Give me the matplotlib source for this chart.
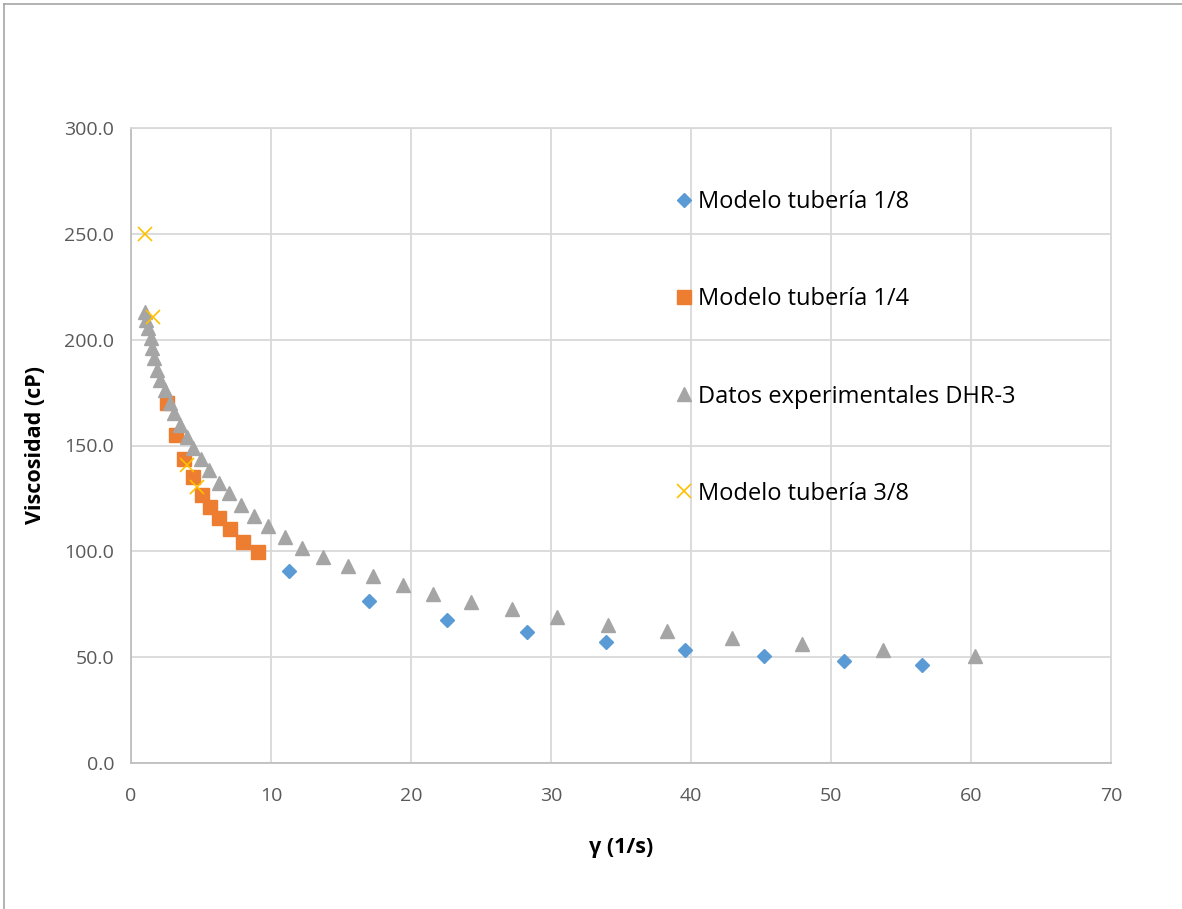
import matplotlib
matplotlib.use("Agg")
import matplotlib.pyplot as plt
from matplotlib.lines import Line2D

# Shear rate (1/s) and viscosity (cP) for each series
x_18 = [11.3, 17.0, 22.6, 28.3, 33.9, 39.6, 45.2, 50.9, 56.5]
y_18 = [90.7, 76.6, 67.6, 61.9, 57.2, 53.4, 50.6, 48.2, 46.3]

x_14 = [2.55, 3.19, 3.8, 4.4, 5.05, 5.67, 6.3, 7.07, 8.0, 9.05]
y_14 = [170.0, 155.0, 143.5, 135.0, 126.5, 121.0, 115.9, 110.4, 104.5, 99.6]

x_exp = [1.0, 1.1, 1.2, 1.4, 1.5, 1.65, 1.85, 2.1, 2.4, 2.8, 3.1, 3.5, 4.0,
         4.45, 5.0, 5.6, 6.25, 7.0, 7.85, 8.75, 9.8, 11.0, 12.2, 13.7, 15.5,
         17.3, 19.4, 21.6, 24.3, 27.2, 30.4, 34.1, 38.3, 42.9, 47.9, 53.7, 60.3]
y_exp = [213.0, 209.3, 205.5, 200.8, 196.0, 191.3, 185.7, 181.0, 176.2, 170.0,
         165.3, 159.7, 154.0, 148.8, 143.6, 138.5, 132.3, 127.6, 122.0, 116.7,
         112.0, 106.8, 101.8, 97.5, 93.0, 88.2, 84.3, 80.0, 76.2, 72.6, 68.8,
         65.3, 62.2, 59.1, 56.1, 53.3, 50.4]

x_38 = [1.0, 1.6, 3.98, 4.7]
y_38 = [250.0, 210.6, 141.0, 130.5]

labels = ["Modelo tubería 1/8", "Modelo tubería 1/4",
          "Datos experimentales DHR-3", "Modelo tubería 3/8"]

x_ticks = [0, 10, 20, 30, 40, 50, 60, 70]
y_ticks = [0, 50, 100, 150, 200, 250, 300]

plt.rcParams['font.family'] = ['Open Sans', 'DejaVu Sans']

fig = plt.figure(figsize=(11.82, 9.09), dpi=100)
W, H = 1182, 909
ax = fig.add_axes([131 / W, 1 - 763 / H, (1111 - 131) / W, (763 - 128) / H])

ax.plot(x_18, y_18, linestyle='none', marker='D', ms=7.5, color='#5B9BD5',
        label=labels[0], zorder=3)
ax.plot(x_14, y_14, linestyle='none', marker='s', ms=10.5, color='#ED7D31',
        label=labels[1], zorder=4)
ax.plot(x_exp, y_exp, linestyle='none', marker='^', ms=10.5, color='#A5A5A5',
        label=labels[2], zorder=5)
ax.plot(x_38, y_38, linestyle='none', marker='x', ms=10, mew=1.2,
        color='#FFC000', label=labels[3], zorder=6)

ax.set_xlim(0, 70)
ax.set_ylim(0, 300)
ax.set_xticks(x_ticks)
ax.set_yticks(y_ticks)
ax.set_yticklabels([f"{v:.1f}" for v in y_ticks])
ax.grid(True, color='#D9D9D9', linewidth=1.3, zorder=0)
ax.set_axisbelow(True)
ax.tick_params(length=0, labelsize=14, labelcolor='#595959')
ax.tick_params(axis='y', pad=12)
ax.tick_params(axis='x', pad=17)

for side in ('left', 'bottom'):
    ax.spines[side].set_color('#BFBFBF')
    ax.spines[side].set_linewidth(1.3)
for side in ('right', 'top'):
    ax.spines[side].set_color('#D9D9D9')
    ax.spines[side].set_linewidth(1.3)

ax.set_xlabel("γ (1/s)", fontsize=15.5, fontweight='bold', labelpad=23)
ax.set_ylabel("Viscosidad (cP)", fontsize=15.5, fontweight='bold', labelpad=13)

leg = ax.legend(loc='upper left', bbox_to_anchor=(0.540, 0.917), frameon=False,
                fontsize=17, labelspacing=3.1, handletextpad=0.0,
                handlelength=1.2, borderaxespad=0)

# chart area frame (top and left edges)
fig.add_artist(Line2D([4 / W, 1], [1 - 4 / H, 1 - 4 / H], color='#A6A6A6',
                      linewidth=1.2, transform=fig.transFigure))
fig.add_artist(Line2D([4 / W, 4 / W], [0, 1 - 4 / H], color='#A6A6A6',
                      linewidth=1.2, transform=fig.transFigure))

fig.savefig("out.png", dpi=100)
